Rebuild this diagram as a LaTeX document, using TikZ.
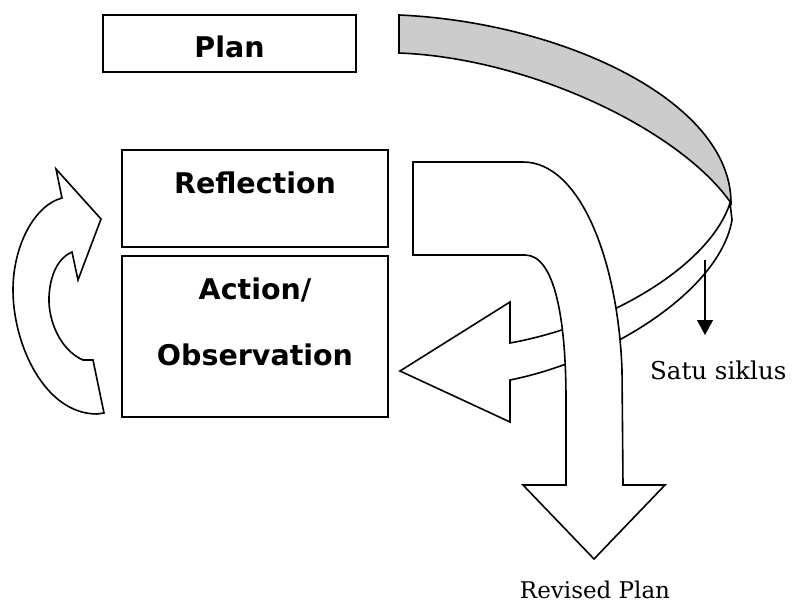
\documentclass[tikz,border=0pt]{standalone}
\usepackage{fontspec}
\setmainfont{DejaVu Serif}
\newfontfamily\boxfont{DejaVu Sans}
\usepackage{tikz}
\usetikzlibrary{arrows.meta}

\tikzset{
  stage/.style={draw, line width=2pt, fill=white, inner sep=0pt},
  stagetxt/.style={font=\boxfont\bfseries\fontsize{28.5}{32}\selectfont, anchor=base, inner sep=0pt},
  blockarrow/.style={draw, fill=white, line width=1.6pt, line join=miter},
  notetxt/.style={font=\fontsize{24.5}{28}\selectfont, inner sep=0pt}
}

\begin{document}
\begin{tikzpicture}[x=1pt,y=-1pt]
\useasboundingbox (0,0) rectangle (795,610);

% curved arrow on the left
\draw[blockarrow] (104,413) -- (93,360) -- (83,360) .. controls (60,350) and (48,320) .. (49,297)
  .. controls (50,275) and (58,258) .. (72,252) -- (78,280) -- (101,219) -- (56,169) -- (62,198)
  .. controls (35,205) and (13,245) .. (13,290) .. controls (13,345) and (45,414) .. (97,414) -- cycle;

% ribbon back to the action box
\draw[blockarrow] (510,343) .. controls (610,325) and (710,265) .. (730,203) -- (732,220)
  .. controls (720,290) and (610,360) .. (510,380) -- (510,422) -- (400,371) -- (510,302) -- cycle;

% arrow down to the revised plan
\draw[blockarrow] (413,162) -- (523,162) .. controls (580,162) and (618,260) .. (622,370) -- (623,485)
  -- (665,485) -- (594,559) -- (523,485) -- (566,485) -- (566,400)
  .. controls (566,320) and (555,255) .. (525,255) -- (413,255) -- cycle;

% grey band from the plan
\filldraw[fill=black!20, line width=1.6pt] (399,15) .. controls (560,22) and (731,100) .. (731,203)
  .. controls (680,130) and (530,58) .. (399,53) -- cycle;

% the three stages
\node[stage, minimum width=253pt, minimum height=57pt] (plan) at (229.5,43.5) {};
\node[stage, minimum width=266pt, minimum height=97pt] (refl) at (255,198.5) {};
\node[stage, minimum width=266pt, minimum height=161pt] (act) at (255,336.5) {};
\node[stagetxt] (plantxt) at (229.5,58) {Plan};
\node[stagetxt] (refltxt) at (255,193) {Reflection};
\node[stagetxt] (acttxt) at (255,299) {Action/};
\node[stagetxt] (obstxt) at (255,365) {Observation};

% one cycle
\coordinate (cyctop) at (705,260);
\coordinate (cycend) at (705,335);
\draw[-{Triangle[length=15pt,width=16pt]}, line width=1.2pt] (cyctop) -- (cycend);
\node[notetxt, anchor=base west] (satu) at (650,379) {Satu siklus};
\node[notetxt, anchor=base, font=\fontsize{23}{27}\selectfont] (revised) at (595,598) {Revised Plan};
\end{tikzpicture}
\end{document}
